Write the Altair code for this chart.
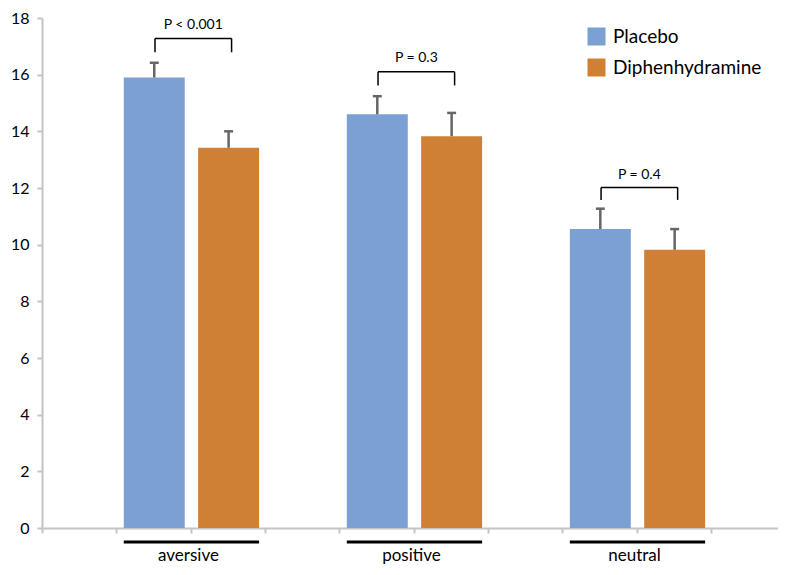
import altair as alt
import pandas as pd

# ---- data ----
categories = ["aversive", "positive", "neutral"]
groups = ["Placebo", "Diphenhydramine"]
placebo_mean = [15.9, 14.6, 10.55]
placebo_err_top = [16.42, 15.24, 11.27]
diph_mean = [13.42, 13.83, 9.82]
diph_err_top = [14.0, 14.65, 10.55]
p_labels = ["P < 0.001", "P = 0.3", "P = 0.4"]
bracket_top = [17.28, 16.1, 12.02]
bracket_leg = [16.79, 15.62, 11.58]
p_text_y = [17.76, 16.59, 12.47]
y_ticks = list(range(0, 19, 2))
x_ticks = list(range(0, 10))

BLUE = "#7BA0D4"
ORANGE = "#D08034"
AXIS_GRAY = "#C4C4C4"
FONT = "Lato"

# ---- tables ----
bar_rows = []
for i, cat in enumerate(categories):
    for j, (g, m, u) in enumerate(zip(groups, [placebo_mean[i], diph_mean[i]],
                                      [placebo_err_top[i], diph_err_top[i]])):
        slot = 3 * i + 1 + j
        bar_rows.append({
            "category": cat, "group": g, "value": m, "upper": u,
            "x0": slot + 0.1, "x1": slot + 0.92, "xc": slot + 0.51,
            "c0": slot + 0.45, "c1": slot + 0.57,
        })
bars_df = pd.DataFrame(bar_rows)

br_rows = []
for i, cat in enumerate(categories):
    left = 3 * i + 1.52
    right = 3 * i + 2.55
    br_rows.append({
        "category": cat, "left": left, "right": right,
        "mid": (left + right) / 2, "top": bracket_top[i], "leg": bracket_leg[i],
        "label": p_labels[i], "ty": p_text_y[i],
    })
br_df = pd.DataFrame(br_rows)

cat_df = pd.DataFrame({
    "category": categories,
    "u0": [3 * i + 1.1 for i in range(3)],
    "u1": [3 * i + 2.92 for i in range(3)],
    "cx": [3 * i + 1.97 for i in range(3)],
})

xscale = alt.Scale(domain=[0, 9.9], nice=False, zero=False)
yscale = alt.Scale(domain=[0, 18], nice=False)

xaxis = alt.Axis(values=x_ticks, labels=False, grid=False, title=None,
                 domainColor=AXIS_GRAY, domainWidth=2, tickColor=AXIS_GRAY,
                 tickWidth=2, tickSize=5)
yaxis = alt.Axis(values=y_ticks, grid=False, title=None,
                 domainColor=AXIS_GRAY, domainWidth=2, tickColor=AXIS_GRAY,
                 tickWidth=2, tickSize=5, labelFontSize=16, labelFont=FONT,
                 labelColor="black", labelPadding=8)

bars = alt.Chart(bars_df).mark_bar(strokeWidth=0).encode(
    x=alt.X("x0:Q", scale=xscale, axis=xaxis),
    x2="x1:Q",
    y=alt.Y("value:Q", scale=yscale, axis=yaxis),
    y2=alt.datum(0),
    color=alt.Color("group:N", scale=alt.Scale(domain=groups, range=[BLUE, ORANGE]),
                    legend=alt.Legend(orient="none", legendX=545, legendY=9, title=None,
                                      symbolType="square", symbolSize=324,
                                      symbolStrokeWidth=0, symbolOpacity=1,
                                      labelFontSize=19, labelFont=FONT,
                                      labelColor="black", rowPadding=11,
                                      labelOffset=7)),
)

err = alt.Chart(bars_df).mark_rule(color="#666666", strokeWidth=2.5).encode(
    x=alt.X("xc:Q", scale=xscale), y=alt.Y("value:Q", scale=yscale), y2="upper:Q")
caps = alt.Chart(bars_df).mark_rule(color="#666666", strokeWidth=2.5).encode(
    x=alt.X("c0:Q", scale=xscale), x2="c1:Q", y=alt.Y("upper:Q", scale=yscale))

br_h = alt.Chart(br_df).mark_rule(color="black", strokeWidth=1.5).encode(
    x=alt.X("left:Q", scale=xscale), x2="right:Q", y=alt.Y("top:Q", scale=yscale))
br_l = alt.Chart(br_df).mark_rule(color="black", strokeWidth=1.5).encode(
    x=alt.X("left:Q", scale=xscale), y=alt.Y("top:Q", scale=yscale), y2="leg:Q")
br_r = alt.Chart(br_df).mark_rule(color="black", strokeWidth=1.5).encode(
    x=alt.X("right:Q", scale=xscale), y=alt.Y("top:Q", scale=yscale), y2="leg:Q")
ptext = alt.Chart(br_df).mark_text(fontSize=14, font=FONT, color="black",
                                   baseline="middle").encode(
    x=alt.X("mid:Q", scale=xscale), y=alt.Y("ty:Q", scale=yscale), text="label:N")

underline = alt.Chart(cat_df).mark_rule(color="black", strokeWidth=3).encode(
    x=alt.X("u0:Q", scale=xscale), x2="u1:Q", y=alt.value(524))
cat_text = alt.Chart(cat_df).mark_text(fontSize=17, font=FONT, color="black",
                                       baseline="alphabetic").encode(
    x=alt.X("cx:Q", scale=xscale), y=alt.value(543), text="category:N")

chart = alt.layer(bars, err, caps, br_h, br_l, br_r, ptext, underline, cat_text).properties(
    width=736, height=510,
    padding={"left": 34, "top": 10, "right": 0, "bottom": 39},
    autosize=alt.AutoSizeParams(type="none"),
).configure_view(stroke=None)

chart.save("out.html", embed_options={"renderer": "svg", "actions": False})
